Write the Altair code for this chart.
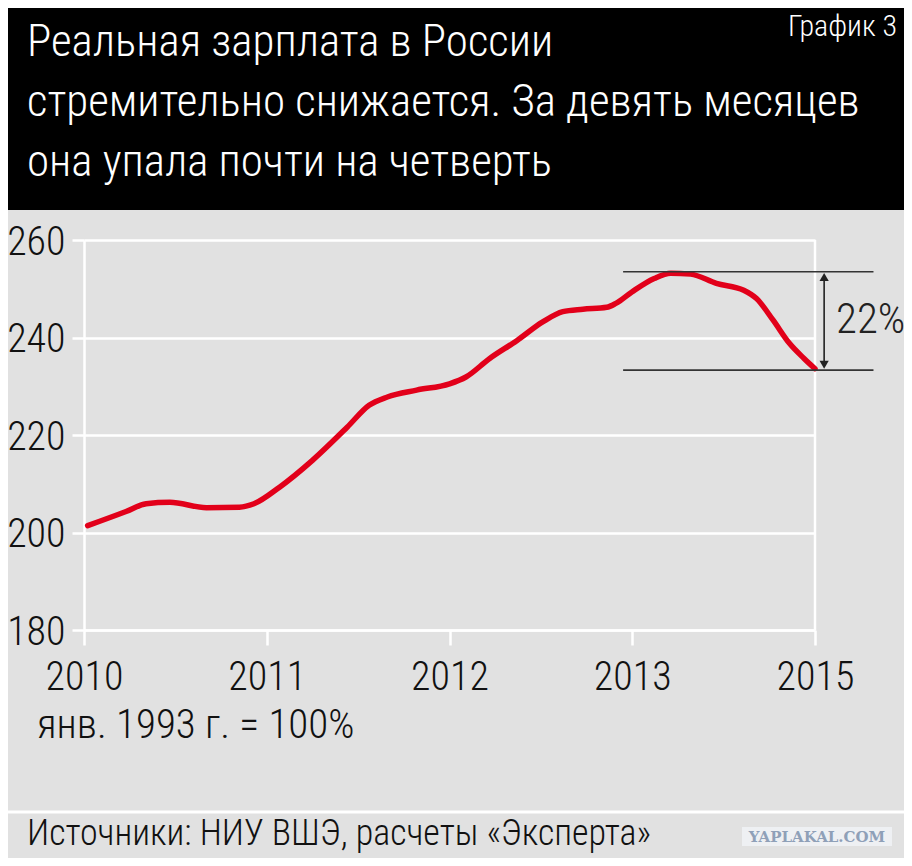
import altair as alt
import pandas as pd

FONT = "Roboto Condensed"

# --- data ---
pos = [0.02, 0.23, 0.34, 0.47, 0.67, 0.85, 0.93, 1.07, 1.25, 1.44, 1.56, 1.66, 1.82, 2.0,
       2.09, 2.22, 2.37, 2.51, 2.62, 2.73, 2.86, 2.91, 3.0, 3.12, 3.21, 3.32, 3.46, 3.61,
       3.68, 3.77, 3.86, 3.94, 4.0]
wage = [201.4, 204.3, 205.9, 206.2, 205.1, 205.2, 205.9, 209.3, 214.8, 221.6, 226.1, 227.8,
        229.2, 230.5, 231.9, 235.7, 239.4, 243.2, 245.3, 245.8, 246.2, 247.0, 249.4, 252.1,
        253.2, 253.0, 251.1, 249.7, 248.0, 243.6, 238.8, 235.7, 233.6]
year_labels = ["2010", "2011", "2012", "2013", "2015"]
y_ticks = [180, 200, 220, 240, 260]

peak_val = 253.5
end_val = 233.3
bracket_from = 2.95
bracket_to = 4.32
arrow_pos = 4.05
pct_label = "22%"

title_lines = ["Реальная зарплата в России",
               "стремительно снижается. За девять месяцев",
               "она упала почти на четверть"]
tag = "График 3"
base_note = "янв. 1993 г. = 100%"
source = "Источники: НИУ ВШЭ, расчеты «Эксперта»"
watermark = "YAPLAKAL.COM"

df = pd.DataFrame({"pos": pos, "wage": wage})
one = pd.DataFrame({"k": [0]})

label_expr = "[" + ",".join("'%s'" % s for s in year_labels) + "][datum.value]"

xs = alt.Scale(domain=[0, 4], nice=False, zero=False)
ys = alt.Scale(domain=[180, 260], nice=False, zero=False)

W, H = 731, 390
PAD = {"left": 76, "top": 232, "right": 89, "bottom": 228}

header = alt.Chart(one).mark_rect(color="#000000").encode(
    x=alt.value(-80), x2=alt.value(830), y=alt.value(-240), y2=alt.value(-30))

title = alt.Chart(one).mark_text(
    font=FONT, fontSize=45, fontWeight=300, color="white", align="left",
    baseline="alphabetic", lineBreak="\n", lineHeight=60,
).encode(x=alt.value(-57), y=alt.value(-184), text=alt.value("\n".join(title_lines)))

tag_t = alt.Chart(one).mark_text(
    font=FONT, fontSize=30, fontWeight=300, color="white", align="right", baseline="alphabetic"
).encode(x=alt.value(813), y=alt.value(-204), text=alt.value(tag))

right_rule = alt.Chart(pd.DataFrame({"pos": [4], "lo": [180], "hi": [260]})).mark_rule(
    color="white", strokeWidth=2.5).encode(
    x=alt.X("pos:Q", scale=xs), y=alt.Y("lo:Q", scale=ys), y2="hi:Q")

line = alt.Chart(df).mark_line(
    color="#e2001a", strokeWidth=5.5, interpolate="monotone", strokeCap="round"
).encode(
    x=alt.X("pos:Q", scale=xs, title=None,
            axis=alt.Axis(values=[0, 1, 2, 3, 4], labelExpr=label_expr, grid=False,
                          domainColor="white", domainWidth=2.5, tickColor="white",
                          tickWidth=2.5, tickSize=15, labelFont=FONT, labelFontSize=40,
                          labelFontWeight=300, labelColor="#111111", labelPadding=12,
                          labelFlush=False, labelOverlap=False)),
    y=alt.Y("wage:Q", scale=ys, title=None,
            axis=alt.Axis(values=y_ticks, grid=True, gridColor="white", gridWidth=2.5,
                          domainColor="white", domainWidth=2.5, tickColor="white",
                          tickWidth=2.5, tickSize=12, labelFont=FONT, labelFontSize=40,
                          labelFontWeight=300, labelColor="#111111", labelPadding=7,
                          labelOffset=2, labelFlush=False, labelOverlap=False)),
)

brackets = alt.Chart(pd.DataFrame({"a": [bracket_from] * 2, "b": [bracket_to] * 2,
                                   "v": [peak_val, end_val]})).mark_rule(
    color="#333333", strokeWidth=1.6).encode(
    x=alt.X("a:Q", scale=xs), x2="b:Q", y=alt.Y("v:Q", scale=ys))

arrow = alt.Chart(pd.DataFrame({"p": [arrow_pos], "a": [peak_val - 0.8], "b": [end_val + 0.8]})).mark_rule(
    color="#222222", strokeWidth=1.6).encode(
    x=alt.X("p:Q", scale=xs), y=alt.Y("a:Q", scale=ys), y2="b:Q")

heads = alt.Chart(pd.DataFrame({"p": [arrow_pos, arrow_pos],
                                "v": [peak_val - 1.1, end_val + 1.1],
                                "s": ["triangle-up", "triangle-down"]})).mark_point(
    filled=True, color="#222222", size=85, opacity=1).encode(
    x=alt.X("p:Q", scale=xs), y=alt.Y("v:Q", scale=ys),
    shape=alt.Shape("s:N", scale=None))

pct = alt.Chart(pd.DataFrame({"p": [4.115], "v": [(peak_val + end_val) / 2 + 0.2], "t": [pct_label]})).mark_text(
    font=FONT, fontSize=43, fontWeight=300, color="#222222", align="left", baseline="middle").encode(
    x=alt.X("p:Q", scale=xs), y=alt.Y("v:Q", scale=ys), text="t:N")

note = alt.Chart(one).mark_text(
    font=FONT, fontSize=41, fontWeight=300, color="#111111", align="left", baseline="alphabetic"
).encode(x=alt.value(-47), y=alt.value(498), text=alt.value(base_note))

sep = alt.Chart(one).mark_rule(color="white", strokeWidth=3).encode(
    x=alt.value(-80), x2=alt.value(830), y=alt.value(572))

src = alt.Chart(one).mark_text(
    font=FONT, fontSize=36, fontWeight=300, color="#111111", align="left", baseline="alphabetic"
).encode(x=alt.value(-57), y=alt.value(605), text=alt.value(source))

wm_box = alt.Chart(one).mark_rect(color="#eef0f3").encode(
    x=alt.value(658), x2=alt.value(808), y=alt.value(587), y2=alt.value(606))
wm = alt.Chart(one).mark_text(
    font="DejaVu Serif", fontWeight="bold", fontSize=15, color="#8fa0b8",
    align="center", baseline="middle"
).encode(x=alt.value(733), y=alt.value(597), text=alt.value(watermark))

chart = alt.layer(header, title, tag_t, right_rule, line, brackets, arrow, heads, pct,
                  note, sep, src, wm_box, wm).properties(
    width=W, height=H,
    autosize=alt.AutoSizeParams(type="none"),
    padding=PAD,
    background="#e1e1e1",
).configure_view(stroke=None)

chart.save("out.html", embed_options={"renderer": "svg", "actions": False})
